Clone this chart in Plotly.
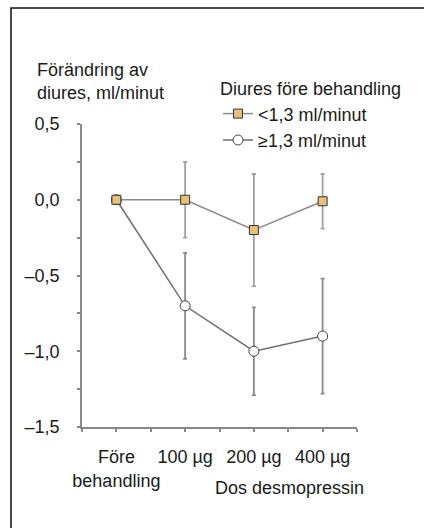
import plotly.graph_objects as go

categories = ["Före<br>behandling", "100 µg", "200 µg", "400 µg"]
low_values = [0.0, 0.0, -0.2, -0.01]
low_err = [0.0, 0.25, 0.37, 0.18]
high_values = [0.0, -0.70, -1.0, -0.9]
high_err = [0.0, 0.35, 0.29, 0.38]
ytick_vals = [0.5, 0.0, -0.5, -1.0, -1.5]
ytick_text = ["0,5", "0,0", "–0,5", "–1,0", "–1,5"]
series_names = ["<1,3 ml/minut", "≥1,3 ml/minut"]

FONT = "Liberation Sans, Arial, sans-serif"
FS = 18
x = list(range(len(categories)))

W, H = 424, 528
L, R, T, B = 82, 67, 124, 101
pw, ph = W - L - R, H - T - B

def px_x(p):
    return (p - L) / pw

def px_y(p):
    return (H - B - p) / ph

fig = go.Figure()
# circle series drawn first so that the square series sits on top
fig.add_trace(go.Scatter(
    x=x, y=high_values, name=series_names[1], mode="lines+markers", legendrank=2,
    line=dict(color="#6e6e6e", width=1.5),
    marker=dict(symbol="circle", size=10, color="white", line=dict(color="#444444", width=1)),
    error_y=dict(type="data", array=high_err, color="#8a8a8a", thickness=1.8, width=2),
))
fig.add_trace(go.Scatter(
    x=x, y=low_values, name=series_names[0], mode="lines+markers", legendrank=1,
    line=dict(color="#8a8a8a", width=1.5),
    marker=dict(symbol="square", size=9, color="#E8C07C", line=dict(color="#333333", width=1)),
    error_y=dict(type="data", array=low_err, color="#a0a0a0", thickness=1.8, width=2),
))

fig.update_layout(
    width=W, height=H,
    margin=dict(l=L, r=R, t=T, b=B, autoexpand=False),
    paper_bgcolor="white", plot_bgcolor="white",
    font=dict(family=FONT, size=FS, color="#1a1a1a"),
    showlegend=True,
    legend=dict(
        x=px_x(218), y=px_y(72), xanchor="left", yanchor="top",
        title=dict(text="Diures före behandling", font=dict(size=FS)),
        font=dict(size=FS), bgcolor="rgba(0,0,0,0)",
        itemwidth=30, tracegroupgap=0, traceorder="normal",
    ),
    xaxis=dict(
        range=[-0.5, len(categories) - 0.5], tickvals=x, ticktext=categories,
        tickangle=0, automargin=False,
        showgrid=False, zeroline=False, showline=True, linecolor="#888888", linewidth=1.5,
        ticks="outside", ticklen=3, tickcolor="#888888", tickwidth=1.5,
        minor=dict(dtick=0.5, tick0=-0.5, ticks="outside", ticklen=3, tickcolor="#888888", tickwidth=1.5),
        ticklabelstandoff=10,
    ),
    yaxis=dict(
        range=[-1.5, 0.5], tickvals=ytick_vals, ticktext=ytick_text, automargin=False,
        showgrid=False, zeroline=False, showline=True, linecolor="#888888", linewidth=1.5,
        ticks="outside", ticklen=3, tickcolor="#888888", tickwidth=1.5,
        minor=dict(dtick=0.25, tick0=0, ticks="outside", ticklen=3, tickcolor="#888888", tickwidth=1.5),
        ticklabelstandoff=14,
    ),
    shapes=[dict(type="rect", xref="paper", yref="paper",
                 x0=px_x(11), x1=px_x(440), y0=px_y(540), y1=px_y(8),
                 line=dict(color="#111111", width=1.5), fillcolor="rgba(0,0,0,0)", layer="below")],
    annotations=[
        dict(text="Förändring av<br>diures, ml/minut", xref="paper", yref="paper",
             x=px_x(35), y=px_y(58), xanchor="left", yanchor="top", align="left",
             showarrow=False, font=dict(size=FS)),
        dict(text="Dos desmopressin", xref="paper", yref="paper",
             x=px_x(366), y=px_y(476), xanchor="right", yanchor="top",
             showarrow=False, font=dict(size=FS)),
    ],
)

fig.write_html("out.html")
